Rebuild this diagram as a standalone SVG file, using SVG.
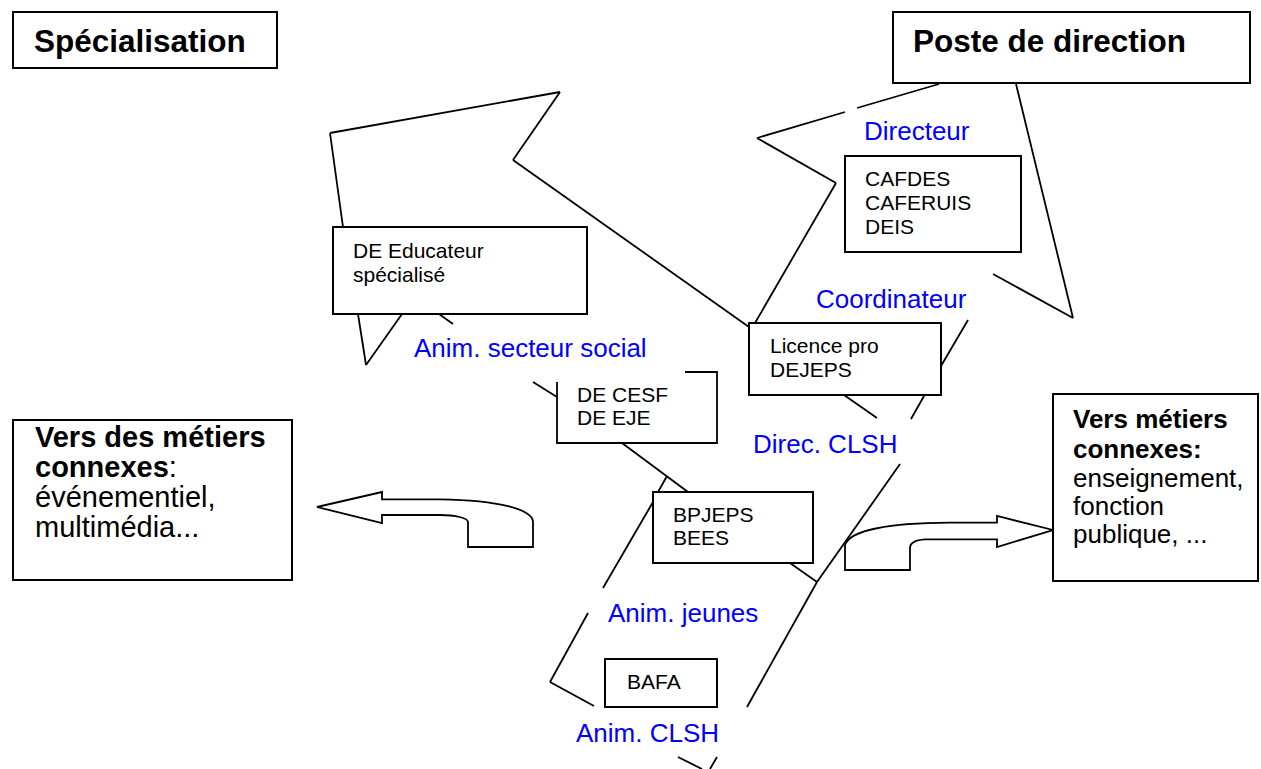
<svg xmlns="http://www.w3.org/2000/svg" width="1261" height="769" viewBox="0 0 1261 769">
<style>
.box{fill:#fff;stroke:#000;stroke-width:2}
.ln{fill:none;stroke:#000;stroke-width:1.8;stroke-linecap:butt}
.arr{fill:#fff;stroke:#000;stroke-width:1.8;stroke-linejoin:miter}
.t{font-family:"Liberation Sans",Arial,sans-serif;font-size:21px;fill:#000}
.h{font-family:"Liberation Sans",Arial,sans-serif;font-size:31.5px;font-weight:bold;fill:#000}
.b{font-family:"Liberation Sans",Arial,sans-serif;font-size:26px;fill:#0000ff}
.m{font-family:"Liberation Sans",Arial,sans-serif;font-size:26px;fill:#000}
.ml{font-family:"Liberation Sans",Arial,sans-serif;font-size:29px;fill:#000}
.bd{font-weight:bold}
</style>
<rect width="1261" height="769" fill="#fff"/>
<g id="connectors">
<line class="ln" x1="330" y1="133" x2="560" y2="92"/>
<line class="ln" x1="560" y1="92" x2="513" y2="160"/>
<line class="ln" x1="513" y1="160" x2="749" y2="327"/>
<line class="ln" x1="330" y1="133" x2="343" y2="227"/>
<line class="ln" x1="358" y1="314" x2="366" y2="365"/>
<line class="ln" x1="366" y1="365" x2="402" y2="314"/>
<line class="ln" x1="439" y1="314" x2="453" y2="324"/>
<line class="ln" x1="533" y1="382" x2="557" y2="397"/>
<line class="ln" x1="622" y1="443" x2="688" y2="492"/>
<line class="ln" x1="790" y1="563" x2="817" y2="582"/>
<line class="ln" x1="667" y1="476" x2="658" y2="492"/>
<line class="ln" x1="653" y1="502" x2="603" y2="588"/>
<line class="ln" x1="588" y1="613" x2="550" y2="682"/>
<line class="ln" x1="550" y1="682" x2="594" y2="706"/>
<line class="ln" x1="678" y1="757" x2="702" y2="769"/>
<line class="ln" x1="717" y1="757" x2="710" y2="769"/>
<line class="ln" x1="747" y1="707" x2="817" y2="582"/>
<line class="ln" x1="817" y1="582" x2="900" y2="464"/>
<line class="ln" x1="911" y1="419" x2="924" y2="396"/>
<line class="ln" x1="941" y1="366" x2="968" y2="320"/>
<line class="ln" x1="844" y1="395" x2="877" y2="418"/>
<line class="ln" x1="755" y1="323" x2="836" y2="183"/>
<line class="ln" x1="836" y1="183" x2="757" y2="138"/>
<line class="ln" x1="757" y1="138" x2="845" y2="112"/>
<line class="ln" x1="857" y1="108" x2="939" y2="84"/>
<line class="ln" x1="1016" y1="84" x2="1073" y2="318"/>
<line class="ln" x1="1073" y1="318" x2="993" y2="274"/>
<path class="arr" d="M317,507 L382,492 L382,499.3 L440,499.3 C500,500 533,510 533,522 L533,547 L468,547 L468,522 C468,518 455,515 440,515 L382,515 L382,523 Z"/>
<path class="arr" d="M845,545 C850,530 890,523 950,522.7 L997,522.7 L997,516 L1053,530 L997,547 L997,539.3 L925,539.3 C915,540 910,543 910,548 L910,570 L845,570 Z"/>
</g>
<g id="specialisation">
<rect class="box" x="13" y="12" width="264" height="56"/>
<text class="h" x="34" y="51.5">Spécialisation</text>
</g>
<g id="poste-direction">
<rect class="box" x="893" y="12" width="357" height="71"/>
<text class="h" x="913" y="51.5">Poste de direction</text>
</g>
<g id="de-educateur">
<rect class="box" x="333" y="227" width="254" height="87"/>
<text class="t" x="353" y="258">DE Educateur</text>
<text class="t" x="353" y="282">spécialisé</text>
</g>
<g id="cafdes">
<rect class="box" x="845" y="156" width="176" height="96"/>
<text class="t" x="865" y="186">CAFDES</text>
<text class="t" x="865" y="210">CAFERUIS</text>
<text class="t" x="865" y="234">DEIS</text>
</g>
<g id="licence">
<rect class="box" x="749" y="323" width="192" height="72"/>
<text class="t" x="770" y="353">Licence pro</text>
<text class="t" x="770" y="377">DEJEPS</text>
</g>
<g id="de-cesf">
<rect x="557" y="372" width="160" height="71" fill="#fff"/>
<path class="ln" d="M685,372 H717 V443 H557 V382" stroke-width="2"/>
<text class="t" x="577" y="402">DE CESF</text>
<text class="t" x="577" y="425">DE EJE</text>
</g>
<g id="bpjeps">
<rect class="box" x="653" y="492" width="160" height="71"/>
<text class="t" x="673" y="522">BPJEPS</text>
<text class="t" x="673" y="545">BEES</text>
</g>
<g id="bafa">
<rect class="box" x="605" y="659" width="112" height="48"/>
<text class="t" x="627" y="689">BAFA</text>
</g>
<g id="labels">
<text class="b" x="864" y="140">Directeur</text>
<text class="b" x="816" y="308">Coordinateur</text>
<text class="b" x="414" y="357">Anim. secteur social</text>
<text class="b" x="753" y="453">Direc. CLSH</text>
<text class="b" x="608" y="622">Anim. jeunes</text>
<text class="b" x="576" y="742">Anim. CLSH</text>
</g>
<g id="vers-gauche">
<rect class="box" x="13" y="420" width="279" height="160"/>
<text class="ml bd" x="35" y="447">Vers des métiers</text>
<text class="ml" x="35" y="477"><tspan class="bd">connexes</tspan>:</text>
<text class="ml" x="35" y="507">événementiel,</text>
<text class="ml" x="35" y="537">multimédia...</text>
</g>
<g id="vers-droite">
<rect class="box" x="1053" y="394" width="205" height="187"/>
<text class="m bd" x="1073" y="428">Vers métiers</text>
<text class="m bd" x="1073" y="458">connexes:</text>
<text class="m" x="1073" y="487">enseignement,</text>
<text class="m" x="1073" y="515">fonction</text>
<text class="m" x="1073" y="543">publique, ...</text>
</g>
</svg>
